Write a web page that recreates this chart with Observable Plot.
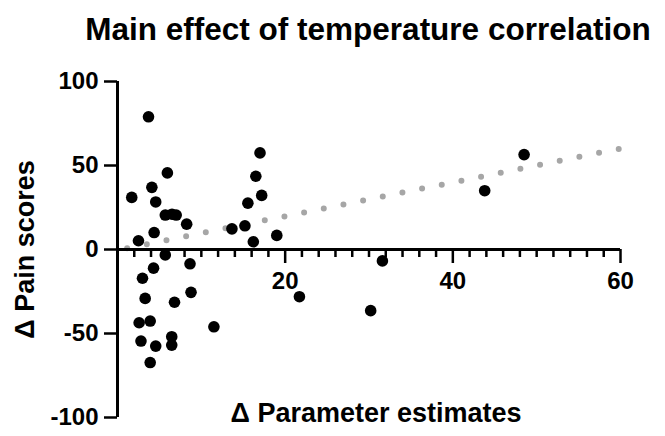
<!DOCTYPE html>
<html>
<head>
<meta charset="utf-8">
<script src="https://cdn.jsdelivr.net/npm/d3@7"></script>
<script src="https://cdn.jsdelivr.net/npm/@observablehq/plot@0.6"></script>
<style>
  body { margin: 0; background: #fff; font-family: "Liberation Sans", Arial, sans-serif; }
  #wrap { width: 665px; height: 436px; position: relative; }
  #title {
    height: 56px; line-height: 58px; white-space: nowrap;
    position: relative; left: 368px; display: inline-block; transform: translateX(-50%);
    font-weight: bold; font-size: 31.5px; color: #000;
  }
  #plot svg { display: block; }
</style>
</head>
<body>
<div id="wrap">
  <div id="title">Main effect of temperature correlation</div>
  <div id="plot"></div>
</div>
<script>
// Δ parameter estimate and Δ pain score for each participant
const paramChange = [3.7, 5.95, 4.1, 1.7, 4.56, 5.7, 6.5, 7.0, 8.25, 4.37, 2.5, 5.7, 8.65, 4.3, 2.98, 3.3, 8.77, 6.8, 2.58, 3.9, 11.5, 2.8, 4.56, 6.47, 6.47, 3.9, 17.0, 16.5, 17.2, 15.55, 15.2, 13.65, 19.0, 16.2, 31.6, 21.7, 30.2, 43.8, 48.5];
const painChange  = [79.0, 45.6, 37.0, 31.0, 28.3, 20.5, 21.0, 20.5, 15.1, 10.1, 5.2, -3.2, -8.5, -11.1, -17.1, -29.1, -25.5, -31.4, -43.6, -42.6, -46.0, -54.5, -57.5, -51.9, -56.9, -67.3, 57.5, 43.6, 32.2, 27.6, 14.1, 12.3, 8.4, 4.6, -6.8, -28.1, -36.4, 35.0, 56.5];

// end points of the fitted regression line
const fitX = [1.15, 59.8];
const fitY = [0.8, 59.9];

// axis ticks
const yTicks = [-100, -50, 0, 50, 100];
const xMinorTicks = d3.range(2, 61, 2).filter(v => v % 20 !== 0);
const xMajorTicks = [20, 40, 60];

const points = paramChange.map((x, i) => ({x, y: painChange[i]}));
const fit = fitX.map((x, i) => ({x, y: fitY[i]}));

const W = 665, H = 380;
const mT = 25, mB = 19, mL = 117, mR = 45;
const yDomain = [-100, 100];
// the x axis crosses at y = 0, halfway up the frame
const zeroShift = -(H - mT - mB) / 2;

const chart = Plot.plot({
  width: W, height: H, marginTop: mT, marginBottom: mB, marginLeft: mL, marginRight: mR,
  style: {fontFamily: "'Liberation Sans', Arial, sans-serif", fontWeight: "bold", color: "#000", background: "#fff"},
  x: {domain: [0, 60], axis: null},
  y: {domain: yDomain, axis: null},
  marks: [
    // regression line
    Plot.line(fit, {x: "x", y: "y", stroke: "#a6a6a6", strokeWidth: 6, strokeDasharray: "0,20.06", strokeLinecap: "round"}),
    // axis lines
    Plot.ruleY([0], {x1: 0, x2: 60, stroke: "#000", strokeWidth: 3}),
    Plot.ruleX([0], {y1: -100, y2: 100, stroke: "#000", strokeWidth: 3}),
    // x ticks hanging below the zero line
    Plot.axisX(xMinorTicks, {anchor: "bottom", tickSize: 8, tickFormat: () => "", strokeWidth: 2.5, label: null, dy: zeroShift}),
    Plot.axisX(xMajorTicks, {anchor: "bottom", tickSize: 14, tickPadding: 8, fontSize: 24, strokeWidth: 2.5, label: null, tickFormat: d => String(d), dy: zeroShift}),
    // y axis ticks and labels
    Plot.axisY(yTicks, {anchor: "left", tickSize: 13, tickPadding: 6, fontSize: 24, strokeWidth: 2.5, label: null, tickFormat: d => String(d)}),
    // axis titles
    Plot.text(["Δ Parameter estimates"], {frameAnchor: "bottom", textAnchor: "middle", lineAnchor: "bottom", dx: 7, dy: 4, text: d => d, fontSize: 27, fill: "#000"}),
    Plot.text(["Δ Pain scores"], {frameAnchor: "left", textAnchor: "middle", lineAnchor: "middle", y: () => 0, rotate: -90, dx: -92, text: d => d, fontSize: 27, fill: "#000"}),
    // participants
    Plot.dot(points, {x: "x", y: "y", r: 5.8, fill: "#000"})
  ]
});
document.getElementById("plot").appendChild(chart);
</script>
</body>
</html>
